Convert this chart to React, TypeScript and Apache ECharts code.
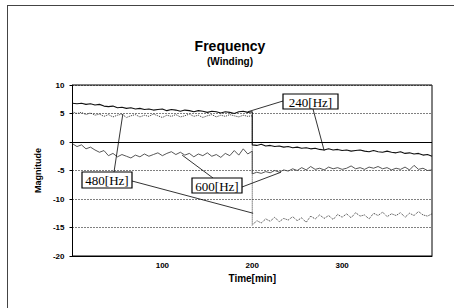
import React, { useEffect, useRef } from "react";
import * as echarts from "echarts";

const timeBefore = [0, 5, 10, 15, 20, 25, 30, 35, 40, 45, 50, 55, 60, 65, 70, 75, 80, 85, 90, 95, 100, 105, 110, 115, 120, 125, 130, 135, 140, 145, 150, 155, 160, 165, 170, 175, 180, 185, 190, 195, 200];
const timeAfter = [200, 205, 210, 215, 220, 225, 230, 235, 240, 245, 250, 255, 260, 265, 270, 275, 280, 285, 290, 295, 300, 305, 310, 315, 320, 325, 330, 335, 340, 345, 350, 355, 360, 365, 370, 375, 380, 385, 390, 395, 400];

const hz240Before = [6.8, 6.7, 6.8, 6.6, 6.7, 6.5, 6.6, 6.3, 6.2, 6.3, 6.0, 6.1, 5.9, 6.0, 5.8, 5.9, 5.7, 5.8, 5.6, 5.7, 5.8, 5.5, 5.7, 5.6, 5.4, 5.6, 5.5, 5.3, 5.5, 5.4, 5.2, 5.4, 5.3, 5.1, 5.3, 5.2, 5.0, 5.3, 5.4, 5.2, 5.3];
const hz240After = [-0.5, -0.6, -0.4, -0.7, -0.6, -0.8, -0.7, -0.9, -0.8, -1.0, -0.9, -1.1, -1.0, -1.2, -1.1, -1.3, -1.4, -1.2, -1.4, -1.3, -1.5, -1.4, -1.6, -1.5, -1.4, -1.6, -1.7, -1.5, -1.7, -1.8, -1.6, -1.8, -1.9, -1.7, -2.0, -1.9, -2.1, -2.0, -2.3, -2.2, -2.5];

const hz480Before = [5.3, 5.0, 5.2, 4.8, 5.1, 4.7, 4.9, 4.5, 4.8, 4.4, 4.7, 4.9, 4.3, 4.6, 4.8, 4.4, 4.7, 4.5, 4.9, 4.6, 4.3, 4.7, 4.5, 4.8, 4.4, 4.6, 4.9, 4.5, 4.7, 4.3, 4.6, 4.8, 4.4, 4.7, 4.5, 4.8, 4.6, 4.4, 4.7, 4.5, 4.6];
const hz480After = [-14.6, -13.8, -14.2, -13.5, -13.9, -13.2, -14.0, -13.4, -13.7, -13.1, -13.8, -13.3, -14.1, -13.0, -13.5, -12.8, -13.4, -12.9, -13.6, -12.7, -13.2, -12.6, -13.3, -12.4, -13.0, -12.8, -13.5, -12.5, -12.9, -12.3, -13.1, -12.6, -12.9, -12.4, -13.2, -12.5, -12.9, -12.2, -12.8, -13.0, -12.6];

const hz600Before = [-0.3, -0.8, -0.5, -1.2, -0.9, -1.4, -1.8, -1.5, -2.4, -2.0, -2.6, -2.2, -2.5, -2.8, -2.3, -2.6, -2.1, -2.5, -2.2, -1.9, -2.4, -2.0, -1.7, -2.2, -1.8, -2.3, -2.0, -2.6, -2.1, -2.4, -1.9, -2.5, -2.2, -2.7, -2.0, -2.4, -1.5, -2.3, -1.2, -2.1, -1.6];
const hz600After = [-5.6, -5.3, -5.5, -5.2, -5.4, -5.0, -5.3, -4.9, -5.1, -4.7, -5.0, -4.5, -4.9, -4.3, -4.8, -4.6, -4.9, -4.4, -4.7, -4.5, -4.8, -4.6, -4.2, -4.7, -4.5, -4.8, -4.4, -4.6, -4.3, -4.7, -4.5, -4.9, -4.6, -4.8, -4.4, -4.9, -4.1, -4.8, -4.6, -5.0, -4.9];

const yTicks = { min: -20, max: 10, interval: 5 };
const xTicks = { min: 0, max: 400, interval: 100 };

const annotationLabels = ["240[Hz]", "480[Hz]", "600[Hz]"];
// leader targets in data coordinates [time, magnitude]
const annotationTargets = [
  [[195, 5.3], [280, -1.5]],
  [[56, 4.9], [201, -12.5]],
  [[122, -2.3], [232, -5.3]],
];

// layout of the label boxes (pixels)
const boxLayout = [
  { x: 283, y: 94, w: 55, h: 15, starts: [[283, 101], [313, 109]] },
  { x: 82, y: 172, w: 50, h: 16, starts: [[114, 172], [132, 181]] },
  { x: 192, y: 178, w: 50, h: 15, starts: [[213, 178], [242, 187]] },
];

const sans = "'Liberation Sans', Arial, sans-serif";
const serif = "'Liberation Serif', 'Times New Roman', serif";

function pairs(ts: number[], vs: number[]) {
  return ts.map((t, i) => [t, vs[i]]);
}

export default function App() {
  const ref = useRef<HTMLDivElement>(null);
  useEffect(() => {
    if (!ref.current) return;
    const chart = echarts.init(ref.current, null, { renderer: "svg" });
    const gridLeft = 72.5;
    const gridTop = 85;
    const gridW = 359.5;
    const gridH = 171;
    chart.setOption({
      animation: false,
      backgroundColor: "#fff",
      grid: {
        left: gridLeft,
        top: gridTop,
        width: gridW,
        height: gridH,
        show: true,
        borderColor: "#000",
        borderWidth: 1,
      },
      xAxis: {
        type: "value",
        min: xTicks.min,
        max: xTicks.max,
        interval: xTicks.interval,
        name: "Time[min]",
        nameLocation: "middle",
        nameGap: 17,
        nameTextStyle: { fontFamily: sans, fontWeight: "bold", fontSize: 10, color: "#000" },
        axisLine: { show: true, onZero: false, lineStyle: { color: "#000" } },
        axisTick: { show: false },
        splitLine: { show: false },
        axisLabel: {
          fontFamily: sans,
          fontWeight: "bold",
          fontSize: 8,
          color: "#000",
          margin: 5,
          formatter: (v: number) => (v <= xTicks.min || v >= xTicks.max ? "" : String(v)),
        },
      },
      yAxis: {
        type: "value",
        min: yTicks.min,
        max: yTicks.max,
        interval: yTicks.interval,
        name: "Magnitude",
        nameLocation: "middle",
        nameGap: 29,
        nameTextStyle: { fontFamily: sans, fontWeight: "bold", fontSize: 9, color: "#000" },
        axisLine: { show: true, lineStyle: { color: "#000" } },
        axisTick: { show: true, length: 3, lineStyle: { color: "#000" } },
        splitLine: { show: true, lineStyle: { type: [1, 2], color: "#000", width: 1 } },
        axisLabel: { fontFamily: sans, fontWeight: "bold", fontSize: 8, color: "#000", margin: 8 },
      },
      series: [
        {
          name: "240[Hz]",
          type: "line",
          data: pairs(timeBefore, hz240Before).concat(pairs(timeAfter, hz240After)),
          symbol: "none",
          lineStyle: { color: "#111", width: 1.1 },
          z: 4,
          markLine: {
            silent: true,
            symbol: "none",
            label: { show: false },
            lineStyle: { type: "solid", color: "#000", width: 1 },
            data: [{ yAxis: 0 }],
          },
        },
        {
          name: "480[Hz]",
          type: "line",
          data: pairs(timeBefore, hz480Before).concat(pairs(timeAfter, hz480After)),
          symbol: "none",
          lineStyle: { color: "#333", width: 1, type: "dotted" },
          z: 3,
        },
        {
          name: "600[Hz]",
          type: "line",
          data: pairs(timeBefore, hz600Before).concat(pairs(timeAfter, hz600After)),
          symbol: "none",
          lineStyle: { color: "#444", width: 0.9 },
          z: 3,
        },
      ],
    });

    const graphics: any[] = [
      { type: "line", shape: { x1: 7.5, y1: 5, x2: 7.5, y2: 308 }, style: { stroke: "#444", lineWidth: 1 } },
      { type: "line", shape: { x1: 7.5, y1: 5.5, x2: 454, y2: 5.5 }, style: { stroke: "#444", lineWidth: 1 } },
      {
        type: "text",
        x: 230,
        y: 46,
        style: { text: "Frequency", fontFamily: sans, fontWeight: "bold", fontSize: 14, fill: "#000", align: "center", verticalAlign: "middle" },
      },
      {
        type: "text",
        x: 230,
        y: 61,
        style: { text: "(Winding)", fontFamily: sans, fontWeight: "bold", fontSize: 10, fill: "#000", align: "center", verticalAlign: "middle" },
      },
    ];
    annotationLabels.forEach((lab, i) => {
      const b = boxLayout[i];
      annotationTargets[i].forEach((tgt, j) => {
        const p = chart.convertToPixel({ gridIndex: 0 }, tgt) as number[];
        const s = b.starts[j];
        graphics.push({
          type: "line",
          z: 10,
          shape: { x1: s[0], y1: s[1], x2: p[0], y2: p[1] },
          style: { stroke: "#000", lineWidth: 0.8 },
        });
      });
      graphics.push({
        type: "rect",
        z: 11,
        shape: { x: b.x, y: b.y, width: b.w, height: b.h },
        style: { fill: "#fff", stroke: "#000", lineWidth: 1.2 },
      });
      graphics.push({
        type: "text",
        z: 12,
        x: b.x + b.w / 2,
        y: b.y + b.h / 2 + 0.5,
        style: { text: lab, fontFamily: serif, fontSize: 13, fill: "#000", align: "center", verticalAlign: "middle" },
      });
    });
    chart.setOption({ graphic: graphics });
    return () => chart.dispose();
  }, []);
  return <div ref={ref} style={{ position: "fixed", left: 0, top: 0, width: 454, height: 308 }} />;
}
